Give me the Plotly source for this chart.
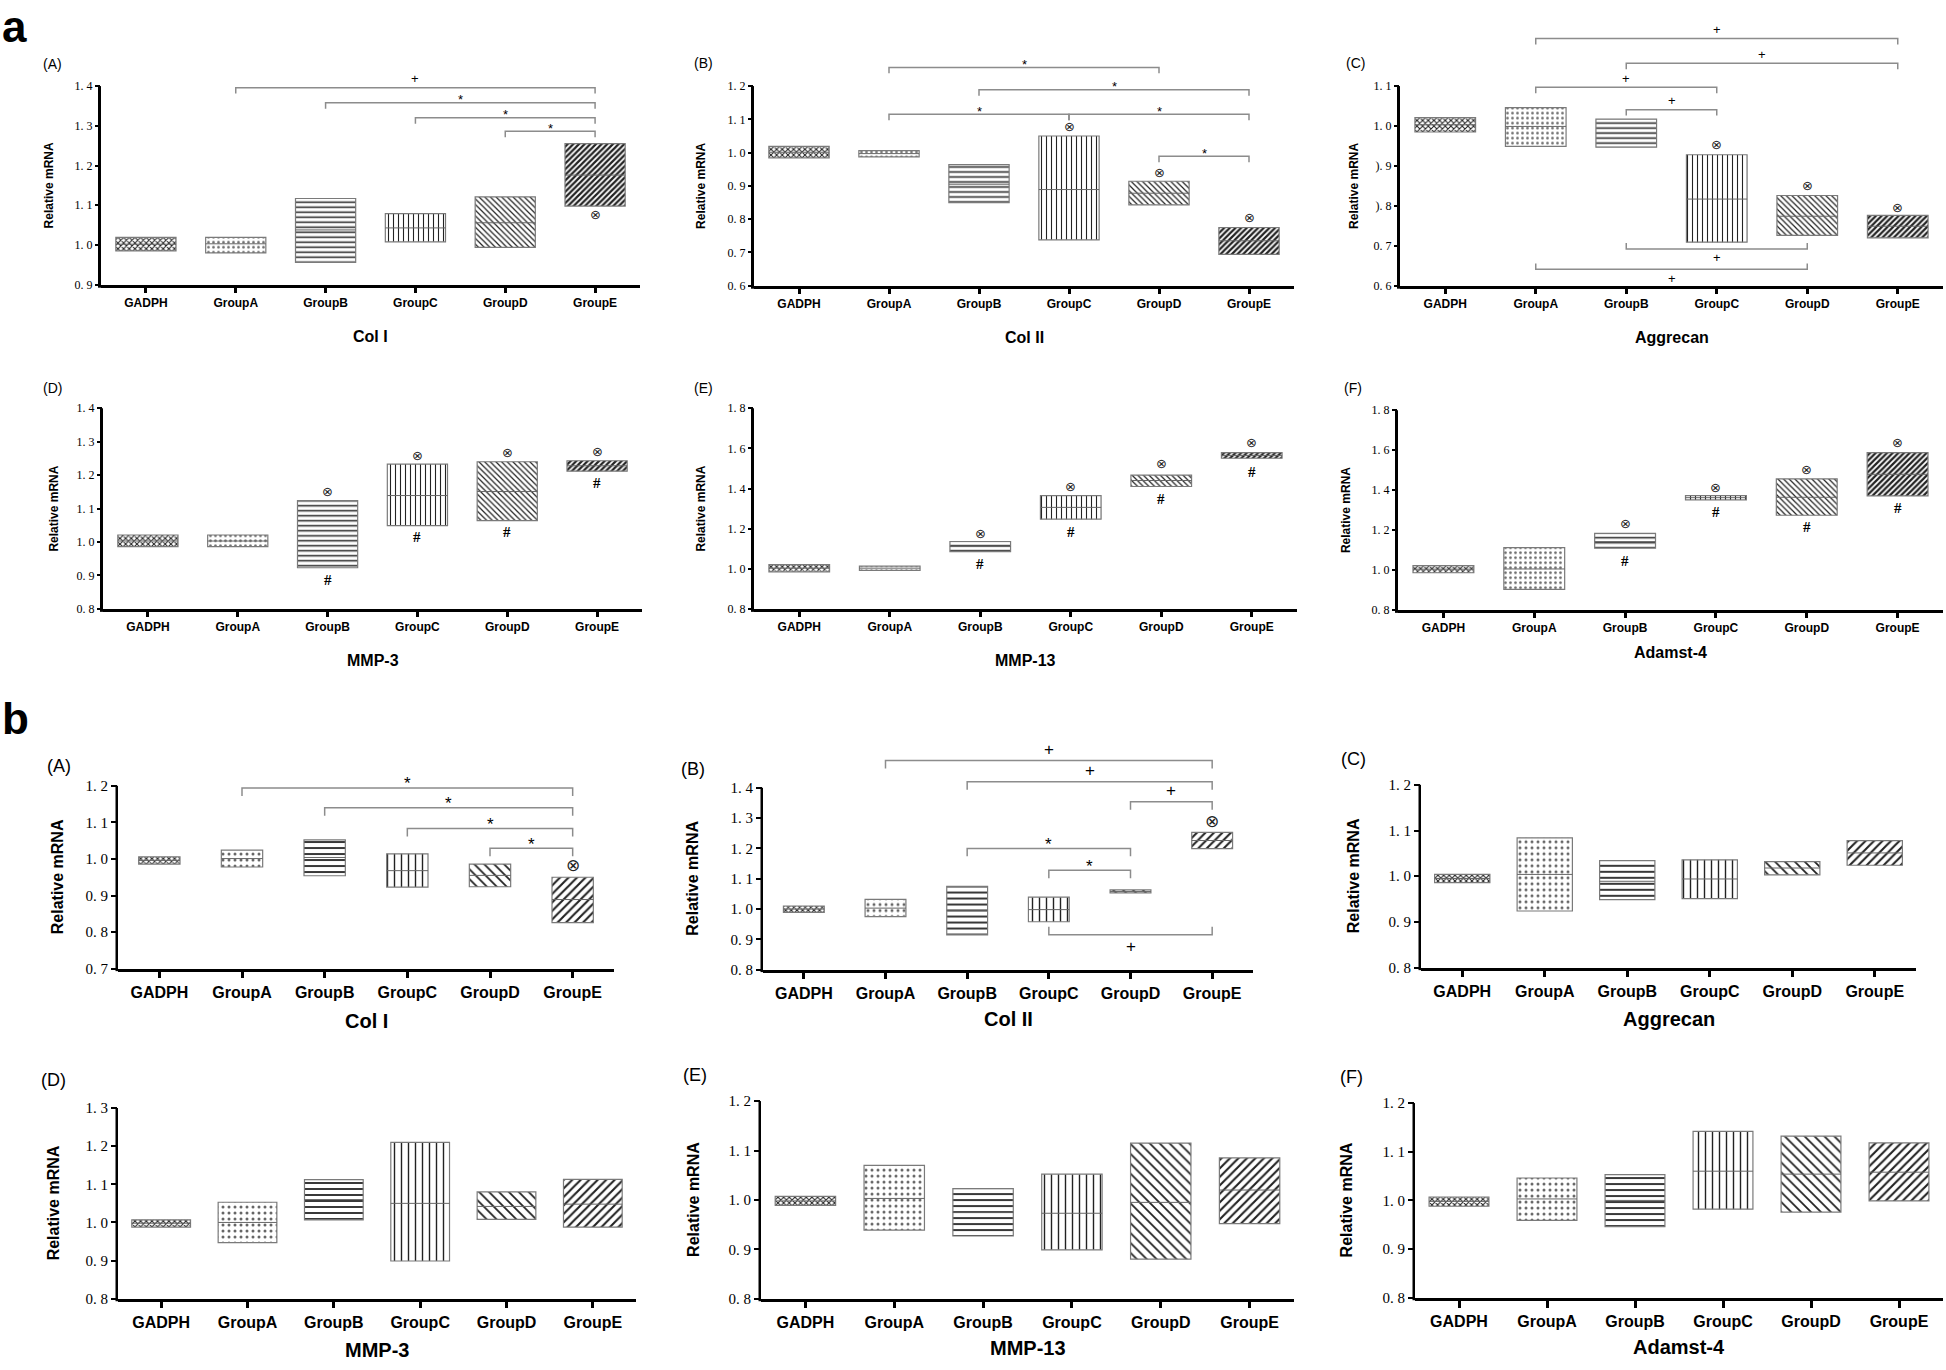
import plotly.graph_objects as go

W, H = 1946, 1370
CATEGORIES = ["GADPH", "GroupA", "GroupB", "GroupC", "GroupD", "GroupE"]

# ================= Section a =================
a_col1_low = [0.985, 0.980, 0.956, 1.008, 0.994, 1.098]
a_col1_high = [1.019, 1.019, 1.117, 1.079, 1.121, 1.255]
a_col1_mean = [1.002, 1.003, 1.038, 1.043, 1.056, 1.176]
a_col1_circles = [(5, 1.078)]
a_col1_hashes = []
a_col1_brackets = [(1, 5, 1.396, "+"), (2, 5, 1.358, "*"), (3, 5, 1.320, "*"), (4, 5, 1.286, "*")]
a_col1_brackets_below = []
a_col1_ticks = [0.9, 1.0, 1.1, 1.2, 1.3, 1.4]

a_col2_low = [0.984, 0.987, 0.850, 0.738, 0.843, 0.694]
a_col2_high = [1.019, 1.006, 0.964, 1.050, 0.914, 0.775]
a_col2_mean = [1.001, 0.997, 0.905, 0.889, 0.878, 0.735]
a_col2_circles = [(3, 1.077), (4, 0.939), (5, 0.806)]
a_col2_hashes = []
a_col2_brackets = [(1, 4, 1.256, "*"), (2, 5, 1.189, "*"), (1, 3, 1.115, "*"), (3, 5, 1.115, "*"), (4, 5, 0.989, "*")]
a_col2_brackets_below = []
a_col2_ticks = [0.6, 0.7, 0.8, 0.9, 1.0, 1.1, 1.2]

a_agg_low = [0.985, 0.949, 0.947, 0.709, 0.726, 0.720]
a_agg_high = [1.021, 1.046, 1.017, 0.928, 0.826, 0.776]
a_agg_mean = [1.003, 0.999, 0.982, 0.817, 0.774, 0.749]
a_agg_circles = [(3, 0.953), (4, 0.850), (5, 0.796)]
a_agg_hashes = []
a_agg_brackets = [(1, 5, 1.219, "+"), (2, 5, 1.157, "+"), (1, 3, 1.097, "+"), (2, 3, 1.041, "+")]
a_agg_brackets_below = [(2, 4, 0.692, "+"), (1, 4, 0.641, "+")]
a_agg_ticks = [0.6, 0.7, 0.8, 0.9, 1.0, 1.1]
a_agg_ticktext = ["0. 6", "0. 7", "). 8", "). 9", "1. 0", "1. 1"]

a_mmp3_low = [0.986, 0.986, 0.923, 1.049, 1.064, 1.212]
a_mmp3_high = [1.021, 1.021, 1.124, 1.233, 1.240, 1.243]
a_mmp3_mean = [1.003, 1.003, 1.019, 1.139, 1.151, 1.228]
a_mmp3_circles = [(2, 1.151), (3, 1.260), (4, 1.267), (5, 1.272)]
a_mmp3_hashes = [(2, 0.885), (3, 1.016), (4, 1.029), (5, 1.176)]
a_mmp3_ticks = [0.8, 0.9, 1.0, 1.1, 1.2, 1.3, 1.4]

a_mmp13_low = [0.985, 0.992, 1.085, 1.247, 1.410, 1.551]
a_mmp13_high = [1.021, 1.013, 1.136, 1.365, 1.467, 1.579]
a_mmp13_mean = [1.003, 1.003, 1.111, 1.306, 1.440, 1.565]
a_mmp13_circles = [(2, 1.177), (3, 1.411), (4, 1.524), (5, 1.628)]
a_mmp13_hashes = [(2, 1.026), (3, 1.185), (4, 1.346), (5, 1.484)]
a_mmp13_ticks = [0.8, 1.0, 1.2, 1.4, 1.6, 1.8]

a_adm_low = [0.986, 0.903, 1.109, 1.351, 1.274, 1.371]
a_adm_high = [1.022, 1.112, 1.183, 1.372, 1.456, 1.588]
a_adm_mean = [1.004, 1.005, 1.142, 1.362, 1.364, 1.479]
a_adm_circles = [(2, 1.231), (3, 1.413), (4, 1.504), (5, 1.636)]
a_adm_hashes = [(2, 1.047), (3, 1.290), (4, 1.214), (5, 1.310)]
a_adm_ticks = [0.8, 1.0, 1.2, 1.4, 1.6, 1.8]

# ================= Section b =================
b_col1_low = [0.986, 0.978, 0.954, 0.923, 0.924, 0.826]
b_col1_high = [1.006, 1.024, 1.052, 1.014, 0.986, 0.950]
b_col1_mean = [0.996, 1.001, 1.004, 0.968, 0.955, 0.889]
b_col1_circles = [(5, 0.984)]
b_col1_brackets = [(1, 5, 1.194, "*"), (2, 5, 1.140, "*"), (3, 5, 1.083, "*"), (4, 5, 1.029, "*")]
b_col1_ticks = [0.7, 0.8, 0.9, 1.0, 1.1, 1.2]

b_col2_low = [0.989, 0.975, 0.915, 0.958, 1.053, 1.199]
b_col2_high = [1.010, 1.032, 1.075, 1.039, 1.063, 1.253]
b_col2_mean = [1.000, 1.003, 0.996, 0.998, 1.058, 1.226]
b_col2_circles = [(5, 1.291)]
b_col2_brackets = [(1, 5, 1.490, "+"), (2, 5, 1.420, "+"), (4, 5, 1.354, "+"), (2, 4, 1.200, "*"), (3, 4, 1.128, "*")]
b_col2_brackets_below = [(3, 5, 0.915, "+")]
b_col2_ticks = [0.8, 0.9, 1.0, 1.1, 1.2, 1.3, 1.4]

b_agg_low = [0.986, 0.924, 0.949, 0.951, 1.003, 1.024]
b_agg_high = [1.004, 1.084, 1.034, 1.036, 1.032, 1.078]
b_agg_mean = [0.995, 1.004, 0.989, 0.994, 1.018, 1.051]
b_agg_ticks = [0.8, 0.9, 1.0, 1.1, 1.2]

b_mmp3_low = [0.988, 0.947, 1.007, 0.899, 1.008, 0.988]
b_mmp3_high = [1.007, 1.053, 1.112, 1.210, 1.080, 1.113]
b_mmp3_mean = [0.998, 1.000, 1.060, 1.050, 1.042, 1.048]
b_mmp3_ticks = [0.8, 0.9, 1.0, 1.1, 1.2, 1.3]

b_mmp13_low = [0.989, 0.939, 0.927, 0.899, 0.880, 0.952]
b_mmp13_high = [1.007, 1.070, 1.023, 1.052, 1.115, 1.085]
b_mmp13_mean = [0.998, 1.003, 0.975, 0.973, 0.995, 1.020]
b_mmp13_ticks = [0.8, 0.9, 1.0, 1.1, 1.2]

b_adm_low = [0.988, 0.959, 0.946, 0.982, 0.976, 0.999]
b_adm_high = [1.007, 1.046, 1.053, 1.142, 1.132, 1.118]
b_adm_mean = [0.998, 1.003, 1.000, 1.060, 1.054, 1.058]
b_adm_ticks = [0.8, 0.9, 1.0, 1.1, 1.2]

# ================= styling =================
PATTERN_SHAPES = ["x", ".", "-", "|", "\\", "/"]
STYLE = {
    "a": dict(ytick=12, cat=12, title=16, ytitle=12, tag=14, sym=13, circ=13, hash=15,
              axw=3, ticklen=5, xticklen=5, drop=6, psize=[4, 5, 5, 5, 4, 4],
              sol=[0.45, 0.22, 0.3, 0.22, 0.3, 0.55],
              plus_shift=9, star_shift=3, below_shift=-9),
    "b": dict(ytick=15, cat=16, title=20, ytitle=16, tag=18, sym=17, circ=17, hash=17,
              axw=2.5, ticklen=6, xticklen=7, drop=8, psize=[4, 6, 6, 7, 7, 6],
              sol=[0.45, 0.2, 0.3, 0.2, 0.25, 0.35],
              plus_shift=11, star_shift=4, below_shift=-12),
}


def tick_text(vals):
    return [f"{v:.1f}".replace(".", ". ") for v in vals]


PANELS = [
    dict(row="a", low=a_col1_low, high=a_col1_high, mean=a_col1_mean, circles=a_col1_circles, hashes=a_col1_hashes,
         up=a_col1_brackets, down=a_col1_brackets_below, ticks=a_col1_ticks, ticktext=tick_text(a_col1_ticks),
         title="Col I", tag="(A)", x0=101, x1=640, pt=79, pb=280, title_y=332, tag_xy=(52, 57), ytitle_x=49, width=0.67),
    dict(row="a", low=a_col2_low, high=a_col2_high, mean=a_col2_mean, circles=a_col2_circles, hashes=a_col2_hashes,
         up=a_col2_brackets, down=a_col2_brackets_below, ticks=a_col2_ticks, ticktext=tick_text(a_col2_ticks),
         title="Col II", tag="(B)", x0=754, x1=1294, pt=79, pb=281, title_y=333, tag_xy=(703, 56), ytitle_x=701, width=0.67),
    dict(row="a", low=a_agg_low, high=a_agg_high, mean=a_agg_mean, circles=a_agg_circles, hashes=a_agg_hashes,
         up=a_agg_brackets, down=a_agg_brackets_below, ticks=a_agg_ticks, ticktext=a_agg_ticktext,
         title="Aggrecan", tag="(C)", x0=1400, x1=1943, pt=79, pb=281, title_y=333, tag_xy=(1355, 56), ytitle_x=1354, width=0.67),
    dict(row="a", low=a_mmp3_low, high=a_mmp3_high, mean=a_mmp3_mean, circles=a_mmp3_circles, hashes=a_mmp3_hashes,
         up=[], down=[], ticks=a_mmp3_ticks, ticktext=tick_text(a_mmp3_ticks),
         title="MMP-3", tag="(D)", x0=103, x1=642, pt=405, pb=608, title_y=660, tag_xy=(52, 384), ytitle_x=54, width=0.67),
    dict(row="a", low=a_mmp13_low, high=a_mmp13_high, mean=a_mmp13_mean, circles=a_mmp13_circles, hashes=a_mmp13_hashes,
         up=[], down=[], ticks=a_mmp13_ticks, ticktext=tick_text(a_mmp13_ticks),
         title="MMP-13", tag="(E)", x0=754, x1=1297, pt=405, pb=608, title_y=660, tag_xy=(703, 384), ytitle_x=701, width=0.67),
    dict(row="a", low=a_adm_low, high=a_adm_high, mean=a_adm_mean, circles=a_adm_circles, hashes=a_adm_hashes,
         up=[], down=[], ticks=a_adm_ticks, ticktext=tick_text(a_adm_ticks),
         title="Adamst-4", tag="(F)", x0=1398, x1=1943, pt=407, pb=609, title_y=652, tag_xy=(1353, 384), ytitle_x=1346, width=0.67),
    dict(row="b", low=b_col1_low, high=b_col1_high, mean=b_col1_mean, circles=b_col1_circles, hashes=[],
         up=b_col1_brackets, down=[], ticks=b_col1_ticks, ticktext=tick_text(b_col1_ticks),
         title="Col I", tag="(A)", x0=118, x1=614, pt=787, pb=972, title_y=1025, tag_xy=(59, 767), ytitle_x=57, width=0.5),
    dict(row="b", low=b_col2_low, high=b_col2_high, mean=b_col2_mean, circles=b_col2_circles, hashes=[],
         up=b_col2_brackets, down=b_col2_brackets_below, ticks=b_col2_ticks, ticktext=tick_text(b_col2_ticks),
         title="Col II", tag="(B)", x0=763, x1=1253, pt=789, pb=973, title_y=1023, tag_xy=(693, 770), ytitle_x=693, width=0.5),
    dict(row="b", low=b_agg_low, high=b_agg_high, mean=b_agg_mean, circles=[], hashes=[],
         up=[], down=[], ticks=b_agg_ticks, ticktext=tick_text(b_agg_ticks),
         title="Aggrecan", tag="(C)", x0=1421, x1=1916, pt=786, pb=971, title_y=1023, tag_xy=(1353, 760), ytitle_x=1353, width=0.67),
    dict(row="b", low=b_mmp3_low, high=b_mmp3_high, mean=b_mmp3_mean, circles=[], hashes=[],
         up=[], down=[], ticks=b_mmp3_ticks, ticktext=tick_text(b_mmp3_ticks),
         title="MMP-3", tag="(D)", x0=118, x1=636, pt=1113, pb=1306, title_y=1358, tag_xy=(53, 1085), ytitle_x=53, width=0.68),
    dict(row="b", low=b_mmp13_low, high=b_mmp13_high, mean=b_mmp13_mean, circles=[], hashes=[],
         up=[], down=[], ticks=b_mmp13_ticks, ticktext=tick_text(b_mmp13_ticks),
         title="MMP-13", tag="(E)", x0=761, x1=1294, pt=1106, pb=1306, title_y=1356, tag_xy=(695, 1080), ytitle_x=694, width=0.68),
    dict(row="b", low=b_adm_low, high=b_adm_high, mean=b_adm_mean, circles=[], hashes=[],
         up=[], down=[], ticks=b_adm_ticks, ticktext=tick_text(b_adm_ticks),
         title="Adamst-4", tag="(F)", x0=1415, x1=1943, pt=1108, pb=1305, title_y=1355, tag_xy=(1351, 1082), ytitle_x=1346, width=0.68),
]

SANS = "Liberation Sans, Arial, sans-serif"
SERIF = "Liberation Serif, Times New Roman, serif"

fig = go.Figure()
annotations = []
shapes = []
layout_axes = {}

for k, p in enumerate(PANELS, start=1):
    st = STYLE[p["row"]]
    xa = "x" if k == 1 else f"x{k}"
    ya = "y" if k == 1 else f"y{k}"
    xkey = "xaxis" if k == 1 else f"xaxis{k}"
    ykey = "yaxis" if k == 1 else f"yaxis{k}"
    vb, vt = p["ticks"][0], p["ticks"][-1]
    ppu = (p["pb"] - p["pt"]) / (vt - vb)  # pixels per unit
    drop = st["drop"] / ppu
    tops = [b[2] for b in p["up"]]
    vmax = max([vt] + [t + 3 / ppu for t in tops])
    p_top = p["pb"] - (vmax - vb) * ppu
    xs = list(range(len(CATEGORIES)))
    w = p["width"]

    # floating bars (min..max)
    fig.add_trace(go.Bar(
        x=xs, y=[h - l for h, l in zip(p["high"], p["low"])], base=p["low"], width=w,
        xaxis=xa, yaxis=ya, hoverinfo="skip",
        marker=dict(color="white", line=dict(color="#7a7a7a", width=1.2),
                    pattern=dict(shape=PATTERN_SHAPES, size=st["psize"], solidity=st["sol"],
                                 fgcolor=["#222", "#666", "#222", "#222", "#222", "#222"],
                                 bgcolor="white", fillmode="replace")),
    ))
    # mean lines
    mx, my = [], []
    for i, m in enumerate(p["mean"]):
        mx += [i - w / 2, i + w / 2, None]
        my += [m, m, None]
    fig.add_trace(go.Scatter(x=mx, y=my, mode="lines", line=dict(color="#666", width=1),
                             xaxis=xa, yaxis=ya, hoverinfo="skip"))
    # significance brackets
    bx, by = [], []
    for (i, j, yb, s) in p["up"]:
        bx += [i, i, j, j, None]
        by += [yb - drop, yb, yb, yb - drop, None]
        annotations.append(dict(x=(i + j) / 2, y=yb, xref=xa, yref=ya, text=s, showarrow=False,
                                yanchor="middle", yshift=st["plus_shift"] if s == "+" else st["star_shift"],
                                font=dict(family=SANS, size=st["sym"], color="black")))
    for (i, j, yb, s) in p["down"]:
        bx += [i, i, j, j, None]
        by += [yb + drop, yb, yb, yb + drop, None]
        annotations.append(dict(x=(i + j) / 2, y=yb, xref=xa, yref=ya, text=s, showarrow=False,
                                yanchor="middle", yshift=st["below_shift"],
                                font=dict(family=SANS, size=st["sym"], color="black")))
    if bx:
        fig.add_trace(go.Scatter(x=bx, y=by, mode="lines", line=dict(color="#8c8c8c", width=1.5),
                                 xaxis=xa, yaxis=ya, hoverinfo="skip"))
    for (i, yv) in p["circles"]:
        annotations.append(dict(x=i, y=yv, xref=xa, yref=ya, text="⊗", showarrow=False,
                                font=dict(family="DejaVu Sans", size=st["circ"], color="#222")))
    for (i, yv) in p["hashes"]:
        annotations.append(dict(x=i, y=yv, xref=xa, yref=ya, text="<b>#</b>", showarrow=False,
                                font=dict(family=SERIF, size=st["hash"], color="black")))

    layout_axes[xkey] = dict(
        domain=[p["x0"] / W, p["x1"] / W], anchor=ya, range=[-0.5, 5.5],
        tickvals=xs, ticktext=CATEGORIES, showline=True, linecolor="black", linewidth=st["axw"],
        ticks="outside", ticklen=st["xticklen"], tickwidth=2.5, tickcolor="black",
        showgrid=False, zeroline=False, fixedrange=True,
        tickfont=dict(family=SANS, size=st["cat"], color="black", weight="bold"),
    )
    layout_axes[ykey] = dict(
        domain=[1 - p["pb"] / H, 1 - p_top / H], anchor=xa, range=[vb, vmax],
        tickvals=p["ticks"], ticktext=p["ticktext"], showline=False,
        ticks="outside", ticklen=st["ticklen"], tickwidth=2, tickcolor="black",
        showgrid=False, zeroline=False, fixedrange=True,
        tickfont=dict(family=SERIF, size=st["ytick"], color="black"),
    )
    # y axis line only up to the top tick
    xl = (p["x0"] - st["axw"] / 2) / W
    shapes.append(dict(type="line", xref="paper", yref="paper", x0=xl, x1=xl,
                       y0=1 - (p["pb"] + st["axw"]) / H, y1=1 - p["pt"] / H,
                       line=dict(color="black", width=st["axw"])))
    # titles
    annotations.append(dict(x=(p["x0"] + p["x1"]) / 2 / W, y=1 - p["title_y"] / H, xref="paper", yref="paper",
                            text=p["title"], showarrow=False, xanchor="center", yanchor="middle",
                            font=dict(family=SANS, size=st["title"], color="black", weight="bold")))
    annotations.append(dict(x=p["ytitle_x"] / W, y=1 - (p["pt"] + p["pb"]) / 2 / H, xref="paper", yref="paper",
                            text="Relative mRNA", textangle=-90, showarrow=False, xanchor="center", yanchor="middle",
                            font=dict(family=SANS, size=st["ytitle"], color="black", weight="bold")))
    annotations.append(dict(x=p["tag_xy"][0] / W, y=1 - p["tag_xy"][1] / H, xref="paper", yref="paper",
                            text=p["tag"], showarrow=False, xanchor="center", yanchor="middle",
                            font=dict(family=SANS, size=st["tag"], color="black")))

# section letters
annotations.append(dict(x=0.0, y=1.0, xref="paper", yref="paper", text="a", showarrow=False,
                        xanchor="left", yanchor="top", yshift=8,
                        font=dict(family=SANS, size=44, color="black", weight="bold")))
annotations.append(dict(x=0.0, y=1 - 692 / H, xref="paper", yref="paper", text="b", showarrow=False,
                        xanchor="left", yanchor="top",
                        font=dict(family=SANS, size=44, color="black", weight="bold")))

fig.update_layout(
    width=W, height=H, margin=dict(l=0, r=0, t=0, b=0),
    paper_bgcolor="white", plot_bgcolor="white", showlegend=False, hovermode=False,
    barmode="overlay", annotations=annotations, shapes=shapes, **layout_axes,
)

fig.write_html("out.html", config={"displayModeBar": False},
               post_script="document.body.style.margin='0';document.body.style.overflow='hidden';")
